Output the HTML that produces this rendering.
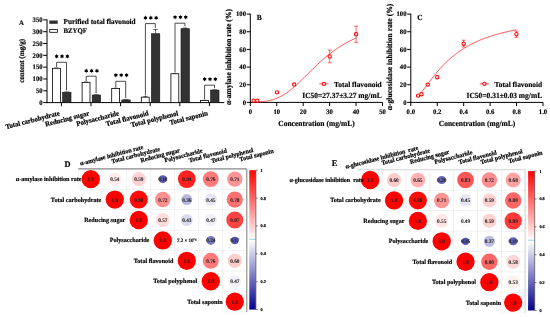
<!DOCTYPE html>
<html><head><meta charset="utf-8"><style>
html,body{margin:0;padding:0;background:#fff;}
svg{display:block;will-change:transform;}
text{transform-box:fill-box;transform-origin:50% 80%;transform:scaleY(1.03);white-space:pre;text-rendering:geometricPrecision;stroke:#000;stroke-width:0.16px;}
.r text{stroke-width:0.2px;}
</style></head><body>
<svg width="550" height="317" viewBox="0 0 550 317" font-family="Liberation Serif, serif">
<rect width="550" height="317" fill="#fff"/>
<g stroke="#000" stroke-width="1" fill="none">
<line x1="47.0" y1="19.4" x2="47.0" y2="103.1"/>
<line x1="46.5" y1="102.6" x2="224.3" y2="102.6"/>
<line x1="43.2" y1="102.60" x2="47.0" y2="102.60"/>
<line x1="43.2" y1="90.79" x2="47.0" y2="90.79"/>
<line x1="43.2" y1="78.97" x2="47.0" y2="78.97"/>
<line x1="43.2" y1="67.16" x2="47.0" y2="67.16"/>
<line x1="43.2" y1="55.34" x2="47.0" y2="55.34"/>
<line x1="43.2" y1="43.53" x2="47.0" y2="43.53"/>
<line x1="43.2" y1="31.71" x2="47.0" y2="31.71"/>
<line x1="43.2" y1="19.90" x2="47.0" y2="19.90"/>
<line x1="61.40" y1="102.6" x2="61.40" y2="106.19999999999999"/>
<line x1="91.00" y1="102.6" x2="91.00" y2="106.19999999999999"/>
<line x1="120.60" y1="102.6" x2="120.60" y2="106.19999999999999"/>
<line x1="150.20" y1="102.6" x2="150.20" y2="106.19999999999999"/>
<line x1="179.80" y1="102.6" x2="179.80" y2="106.19999999999999"/>
<line x1="209.40" y1="102.6" x2="209.40" y2="106.19999999999999"/>
</g>
<g font-family="Liberation Serif, serif" font-weight="bold">
<text x="42.60" y="104.90" font-size="6.7" text-anchor="end" fill="#000" >0</text>
<text x="42.60" y="93.09" font-size="6.7" text-anchor="end" fill="#000" >50</text>
<text x="42.60" y="81.27" font-size="6.7" text-anchor="end" fill="#000" >100</text>
<text x="42.60" y="69.46" font-size="6.7" text-anchor="end" fill="#000" >150</text>
<text x="42.60" y="57.64" font-size="6.7" text-anchor="end" fill="#000" >200</text>
<text x="42.60" y="45.83" font-size="6.7" text-anchor="end" fill="#000" >250</text>
<text x="42.60" y="34.01" font-size="6.7" text-anchor="end" fill="#000" >300</text>
<text x="42.60" y="22.20" font-size="6.7" text-anchor="end" fill="#000" >350</text>
</g>
<g>
<line x1="56.45" y1="68.34" x2="56.45" y2="67.98" stroke="#000" stroke-width="0.6"/>
<line x1="54.45" y1="67.98" x2="58.45" y2="67.98" stroke="#000" stroke-width="0.6"/>
<line x1="66.70" y1="92.20" x2="66.70" y2="91.97" stroke="#000" stroke-width="0.6"/>
<line x1="64.40" y1="91.97" x2="69.00" y2="91.97" stroke="#000" stroke-width="0.6"/>
<rect x="52.50" y="68.34" width="7.90" height="34.26" fill="#fff" stroke="#000" stroke-width="0.8"/>
<rect x="62.60" y="92.20" width="8.40" height="10.40" fill="#333" stroke="#111" stroke-width="0.6"/>
<line x1="86.05" y1="82.37" x2="86.05" y2="82.02" stroke="#000" stroke-width="0.6"/>
<line x1="84.05" y1="82.02" x2="88.05" y2="82.02" stroke="#000" stroke-width="0.6"/>
<line x1="96.30" y1="95.04" x2="96.30" y2="94.80" stroke="#000" stroke-width="0.6"/>
<line x1="94.00" y1="94.80" x2="98.60" y2="94.80" stroke="#000" stroke-width="0.6"/>
<rect x="82.10" y="82.37" width="7.90" height="20.23" fill="#fff" stroke="#000" stroke-width="0.8"/>
<rect x="92.20" y="95.04" width="8.40" height="7.56" fill="#333" stroke="#111" stroke-width="0.6"/>
<line x1="115.65" y1="88.42" x2="115.65" y2="88.07" stroke="#000" stroke-width="0.6"/>
<line x1="113.65" y1="88.07" x2="117.65" y2="88.07" stroke="#000" stroke-width="0.6"/>
<line x1="125.90" y1="99.91" x2="125.90" y2="99.72" stroke="#000" stroke-width="0.6"/>
<line x1="123.60" y1="99.72" x2="128.20" y2="99.72" stroke="#000" stroke-width="0.6"/>
<rect x="111.70" y="88.42" width="7.90" height="14.18" fill="#fff" stroke="#000" stroke-width="0.8"/>
<rect x="121.80" y="99.91" width="8.40" height="2.69" fill="#333" stroke="#111" stroke-width="0.6"/>
<line x1="145.25" y1="97.17" x2="145.25" y2="96.57" stroke="#000" stroke-width="0.6"/>
<line x1="143.25" y1="96.57" x2="147.25" y2="96.57" stroke="#000" stroke-width="0.6"/>
<line x1="155.50" y1="33.72" x2="155.50" y2="29.47" stroke="#000" stroke-width="0.6"/>
<line x1="153.20" y1="29.47" x2="157.80" y2="29.47" stroke="#000" stroke-width="0.6"/>
<rect x="141.30" y="97.17" width="7.90" height="5.43" fill="#fff" stroke="#000" stroke-width="0.8"/>
<rect x="151.40" y="33.72" width="8.40" height="68.88" fill="#333" stroke="#111" stroke-width="0.6"/>
<line x1="174.85" y1="73.77" x2="174.85" y2="73.49" stroke="#000" stroke-width="0.6"/>
<line x1="172.85" y1="73.49" x2="176.85" y2="73.49" stroke="#000" stroke-width="0.6"/>
<line x1="185.10" y1="28.71" x2="185.10" y2="28.00" stroke="#000" stroke-width="0.6"/>
<line x1="182.80" y1="28.00" x2="187.40" y2="28.00" stroke="#000" stroke-width="0.6"/>
<rect x="170.90" y="73.77" width="7.90" height="28.83" fill="#fff" stroke="#000" stroke-width="0.8"/>
<rect x="181.00" y="28.71" width="8.40" height="73.89" fill="#333" stroke="#111" stroke-width="0.6"/>
<line x1="204.45" y1="100.47" x2="204.45" y2="100.28" stroke="#000" stroke-width="0.6"/>
<line x1="202.45" y1="100.28" x2="206.45" y2="100.28" stroke="#000" stroke-width="0.6"/>
<line x1="214.70" y1="90.08" x2="214.70" y2="89.84" stroke="#000" stroke-width="0.6"/>
<line x1="212.40" y1="89.84" x2="217.00" y2="89.84" stroke="#000" stroke-width="0.6"/>
<rect x="200.50" y="100.47" width="7.90" height="2.13" fill="#fff" stroke="#000" stroke-width="0.8"/>
<rect x="210.60" y="90.08" width="8.40" height="12.52" fill="#333" stroke="#111" stroke-width="0.6"/>
</g>
<g stroke="#111" stroke-width="0.75" fill="none">
<polyline points="56.60,66.98 56.60,62.3 66.50,62.3 66.50,90.37"/>
<polyline points="86.20,81.02 86.20,76.2 96.10,76.2 96.10,93.20"/>
<polyline points="115.80,87.07 115.80,81.3 125.70,81.3 125.70,98.12"/>
<polyline points="145.40,95.57 145.40,23.6 155.30,23.6 155.30,27.87"/>
<polyline points="175.00,72.49 175.00,23.2 184.90,23.2 184.90,26.40"/>
<polyline points="204.60,99.28 204.60,85.2 214.50,85.2 214.50,88.24"/>
</g>
<g font-family="Liberation Serif, serif" font-weight="bold">
<polygon points="56.65,54.10 56.00,55.17 54.74,55.20 55.35,56.30 54.74,57.40 56.00,57.43 56.65,58.50 57.30,57.43 58.56,57.40 57.95,56.30 58.56,55.20 57.30,55.17" fill="#000" stroke="none"/>
<polygon points="62.00,54.10 61.35,55.17 60.09,55.20 60.70,56.30 60.09,57.40 61.35,57.43 62.00,58.50 62.65,57.43 63.91,57.40 63.30,56.30 63.91,55.20 62.65,55.17" fill="#000" stroke="none"/>
<polygon points="67.35,54.10 66.70,55.17 65.44,55.20 66.05,56.30 65.44,57.40 66.70,57.43 67.35,58.50 68.00,57.43 69.26,57.40 68.65,56.30 69.26,55.20 68.00,55.17" fill="#000" stroke="none"/>
<polygon points="86.25,68.60 85.60,69.67 84.34,69.70 84.95,70.80 84.34,71.90 85.60,71.93 86.25,73.00 86.90,71.93 88.16,71.90 87.55,70.80 88.16,69.70 86.90,69.67" fill="#000" stroke="none"/>
<polygon points="91.60,68.60 90.95,69.67 89.69,69.70 90.30,70.80 89.69,71.90 90.95,71.93 91.60,73.00 92.25,71.93 93.51,71.90 92.90,70.80 93.51,69.70 92.25,69.67" fill="#000" stroke="none"/>
<polygon points="96.95,68.60 96.30,69.67 95.04,69.70 95.65,70.80 95.04,71.90 96.30,71.93 96.95,73.00 97.60,71.93 98.86,71.90 98.25,70.80 98.86,69.70 97.60,69.67" fill="#000" stroke="none"/>
<polygon points="115.85,73.00 115.20,74.07 113.94,74.10 114.55,75.20 113.94,76.30 115.20,76.33 115.85,77.40 116.50,76.33 117.76,76.30 117.15,75.20 117.76,74.10 116.50,74.07" fill="#000" stroke="none"/>
<polygon points="121.20,73.00 120.55,74.07 119.29,74.10 119.90,75.20 119.29,76.30 120.55,76.33 121.20,77.40 121.85,76.33 123.11,76.30 122.50,75.20 123.11,74.10 121.85,74.07" fill="#000" stroke="none"/>
<polygon points="126.55,73.00 125.90,74.07 124.64,74.10 125.25,75.20 124.64,76.30 125.90,76.33 126.55,77.40 127.20,76.33 128.46,76.30 127.85,75.20 128.46,74.10 127.20,74.07" fill="#000" stroke="none"/>
<polygon points="145.45,15.60 144.80,16.67 143.54,16.70 144.15,17.80 143.54,18.90 144.80,18.93 145.45,20.00 146.10,18.93 147.36,18.90 146.75,17.80 147.36,16.70 146.10,16.67" fill="#000" stroke="none"/>
<polygon points="150.80,15.60 150.15,16.67 148.89,16.70 149.50,17.80 148.89,18.90 150.15,18.93 150.80,20.00 151.45,18.93 152.71,18.90 152.10,17.80 152.71,16.70 151.45,16.67" fill="#000" stroke="none"/>
<polygon points="156.15,15.60 155.50,16.67 154.24,16.70 154.85,17.80 154.24,18.90 155.50,18.93 156.15,20.00 156.80,18.93 158.06,18.90 157.45,17.80 158.06,16.70 156.80,16.67" fill="#000" stroke="none"/>
<polygon points="175.05,15.00 174.40,16.07 173.14,16.10 173.75,17.20 173.14,18.30 174.40,18.33 175.05,19.40 175.70,18.33 176.96,18.30 176.35,17.20 176.96,16.10 175.70,16.07" fill="#000" stroke="none"/>
<polygon points="180.40,15.00 179.75,16.07 178.49,16.10 179.10,17.20 178.49,18.30 179.75,18.33 180.40,19.40 181.05,18.33 182.31,18.30 181.70,17.20 182.31,16.10 181.05,16.07" fill="#000" stroke="none"/>
<polygon points="185.75,15.00 185.10,16.07 183.84,16.10 184.45,17.20 183.84,18.30 185.10,18.33 185.75,19.40 186.40,18.33 187.66,18.30 187.05,17.20 187.66,16.10 186.40,16.07" fill="#000" stroke="none"/>
<polygon points="204.65,77.00 204.00,78.07 202.74,78.10 203.35,79.20 202.74,80.30 204.00,80.33 204.65,81.40 205.30,80.33 206.56,80.30 205.95,79.20 206.56,78.10 205.30,78.07" fill="#000" stroke="none"/>
<polygon points="210.00,77.00 209.35,78.07 208.09,78.10 208.70,79.20 208.09,80.30 209.35,80.33 210.00,81.40 210.65,80.33 211.91,80.30 211.30,79.20 211.91,78.10 210.65,78.07" fill="#000" stroke="none"/>
<polygon points="215.35,77.00 214.70,78.07 213.44,78.10 214.05,79.20 213.44,80.30 214.70,80.33 215.35,81.40 216.00,80.33 217.26,80.30 216.65,79.20 217.26,78.10 216.00,78.07" fill="#000" stroke="none"/>
</g>
<rect x="49.3" y="20.5" width="8.4" height="3.3" fill="#2e2e2e"/>
<rect x="49.7" y="29.6" width="7.8" height="2.7" fill="#fff" stroke="#000" stroke-width="0.8"/>
<g font-family="Liberation Serif, serif" font-weight="bold">
<text x="63.5" y="24.3" font-size="7.25">Purified total flavonoid</text>
<text x="63.5" y="33.5" font-size="6.8">BZYQF</text>
<text x="21.5" y="24.9" font-size="6.8" text-anchor="middle">A</text>
<g class="r" transform="translate(24.2 60.9) rotate(-90)"><text x="0" y="0" font-size="7.1" text-anchor="middle">content (mg/g)</text></g>
<g class="r" transform="rotate(-14.5 60.20 115.20)"><text x="60.20" y="115.20" font-size="6.8" text-anchor="end">Total carbohydrate</text></g>
<g class="r" transform="rotate(-14.5 89.80 115.20)"><text x="89.80" y="115.20" font-size="6.8" text-anchor="end">Reducing sugar</text></g>
<g class="r" transform="rotate(-14.5 119.40 115.20)"><text x="119.40" y="115.20" font-size="6.8" text-anchor="end">Polysaccharide</text></g>
<g class="r" transform="rotate(-14.5 149.00 115.20)"><text x="149.00" y="115.20" font-size="6.8" text-anchor="end">Total flavonoid</text></g>
<g class="r" transform="rotate(-14.5 178.60 115.20)"><text x="178.60" y="115.20" font-size="6.8" text-anchor="end">Total polyphenol</text></g>
<g class="r" transform="rotate(-14.5 208.20 115.20)"><text x="208.20" y="115.20" font-size="6.8" text-anchor="end">Total saponin</text></g>
</g>
<g stroke="#000" stroke-width="1" fill="none">
<line x1="250.3" y1="13.6" x2="250.3" y2="102.9"/>
<line x1="249.8" y1="102.4" x2="382.5" y2="102.4"/>
<line x1="246.70000000000002" y1="102.40" x2="250.3" y2="102.40"/>
<line x1="246.70000000000002" y1="84.74" x2="250.3" y2="84.74"/>
<line x1="246.70000000000002" y1="67.08" x2="250.3" y2="67.08"/>
<line x1="246.70000000000002" y1="49.42" x2="250.3" y2="49.42"/>
<line x1="246.70000000000002" y1="31.76" x2="250.3" y2="31.76"/>
<line x1="246.70000000000002" y1="14.10" x2="250.3" y2="14.10"/>
<line x1="250.30" y1="102.4" x2="250.30" y2="106.0"/>
<line x1="276.74" y1="102.4" x2="276.74" y2="106.0"/>
<line x1="303.18" y1="102.4" x2="303.18" y2="106.0"/>
<line x1="329.62" y1="102.4" x2="329.62" y2="106.0"/>
<line x1="356.06" y1="102.4" x2="356.06" y2="106.0"/>
<line x1="382.50" y1="102.4" x2="382.50" y2="106.0"/>
</g>
<g font-family="Liberation Serif, serif" font-weight="bold">
<text x="246.00" y="104.70" font-size="6.7" text-anchor="end" fill="#000" >0</text>
<text x="246.00" y="87.04" font-size="6.7" text-anchor="end" fill="#000" >20</text>
<text x="246.00" y="69.38" font-size="6.7" text-anchor="end" fill="#000" >40</text>
<text x="246.00" y="51.72" font-size="6.7" text-anchor="end" fill="#000" >60</text>
<text x="246.00" y="34.06" font-size="6.7" text-anchor="end" fill="#000" >80</text>
<text x="246.00" y="16.40" font-size="6.7" text-anchor="end" fill="#000" >100</text>
<text x="250.30" y="114.30" font-size="6.7" text-anchor="middle" fill="#000" >0</text>
<text x="276.74" y="114.30" font-size="6.7" text-anchor="middle" fill="#000" >10</text>
<text x="303.18" y="114.30" font-size="6.7" text-anchor="middle" fill="#000" >20</text>
<text x="329.62" y="114.30" font-size="6.7" text-anchor="middle" fill="#000" >30</text>
<text x="356.06" y="114.30" font-size="6.7" text-anchor="middle" fill="#000" >40</text>
<text x="382.50" y="114.30" font-size="6.7" text-anchor="middle" fill="#000" >50</text>
<text x="316.50" y="125.6" font-size="7.5" text-anchor="middle">Concentration (mg/mL)</text>
<g class="r" transform="translate(231.10 57) rotate(-90)"><text x="0" y="0" font-size="7.6" text-anchor="middle">α-amylase inhibition rate (%)</text></g>
<text x="256.80" y="20.4" font-size="7.5">B</text>
<text x="381.70" y="86.7" font-size="7.4" text-anchor="end">Total flavonoid</text>
<text x="381.70" y="98.4" font-size="7.5" text-anchor="end">IC50=27.37±3.27 mg/mL</text>
</g>
<path d="M259.30,101.82 L260.92,101.72 L262.53,101.60 L264.15,101.43 L265.76,101.22 L267.38,100.96 L268.99,100.64 L270.61,100.27 L272.23,99.83 L273.84,99.33 L275.46,98.76 L277.07,98.11 L278.69,97.40 L280.30,96.61 L281.92,95.74 L283.53,94.80 L285.15,93.79 L286.76,92.71 L288.38,91.55 L289.99,90.34 L291.61,89.06 L293.22,87.72 L294.84,86.33 L296.45,84.89 L298.07,83.41 L299.69,81.90 L301.30,80.36 L302.92,78.79 L304.53,77.20 L306.15,75.61 L307.76,74.00 L309.38,72.40 L310.99,70.80 L312.61,69.21 L314.22,67.64 L315.84,66.08 L317.45,64.54 L319.07,63.03 L320.68,61.55 L322.30,60.10 L323.91,58.68 L325.53,57.29 L327.14,55.94 L328.76,54.63 L330.38,53.35 L331.99,52.11 L333.61,50.91 L335.22,49.75 L336.84,48.63 L338.45,47.55 L340.07,46.50 L341.68,45.49 L343.30,44.52 L344.91,43.58 L346.53,42.68 L348.14,41.81 L349.76,40.98 L351.37,40.18 L352.99,39.40 L354.60,38.66 L356.22,37.95" fill="none" stroke="#ff3a3a" stroke-width="0.85"/>
<g stroke="#ff0000" fill="none" stroke-width="1.05">
<line x1="329.70" y1="50.00" x2="329.70" y2="62.80" stroke-width="0.6"/>
<line x1="327.75" y1="50.00" x2="331.65" y2="50.00" stroke-width="0.6"/>
<line x1="327.75" y1="62.80" x2="331.65" y2="62.80" stroke-width="0.6"/>
<line x1="356.10" y1="26.20" x2="356.10" y2="42.40" stroke-width="0.6"/>
<line x1="354.15" y1="26.20" x2="358.05" y2="26.20" stroke-width="0.6"/>
<line x1="354.15" y1="42.40" x2="358.05" y2="42.40" stroke-width="0.6"/>
<circle cx="253.60" cy="100.70" r="1.65" fill="#fff"/>
<circle cx="257.30" cy="100.70" r="1.65" fill="#fff"/>
<circle cx="277.00" cy="92.30" r="1.65" fill="#fff"/>
<circle cx="294.20" cy="84.50" r="1.65" fill="#fff"/>
<circle cx="329.70" cy="56.40" r="1.65" fill="#fff"/>
<circle cx="356.10" cy="34.30" r="1.65" fill="#fff"/>
<line x1="319.30" y1="83.8" x2="328.50" y2="83.8" stroke-width="0.7"/>
<circle cx="323.90" cy="83.8" r="1.65" fill="#fff"/>
</g>
<g stroke="#000" stroke-width="1" fill="none">
<line x1="410.8" y1="13.6" x2="410.8" y2="102.9"/>
<line x1="410.3" y1="102.4" x2="543.0" y2="102.4"/>
<line x1="407.2" y1="102.40" x2="410.8" y2="102.40"/>
<line x1="407.2" y1="84.74" x2="410.8" y2="84.74"/>
<line x1="407.2" y1="67.08" x2="410.8" y2="67.08"/>
<line x1="407.2" y1="49.42" x2="410.8" y2="49.42"/>
<line x1="407.2" y1="31.76" x2="410.8" y2="31.76"/>
<line x1="407.2" y1="14.10" x2="410.8" y2="14.10"/>
<line x1="410.80" y1="102.4" x2="410.80" y2="106.0"/>
<line x1="437.24" y1="102.4" x2="437.24" y2="106.0"/>
<line x1="463.68" y1="102.4" x2="463.68" y2="106.0"/>
<line x1="490.12" y1="102.4" x2="490.12" y2="106.0"/>
<line x1="516.56" y1="102.4" x2="516.56" y2="106.0"/>
<line x1="543.00" y1="102.4" x2="543.00" y2="106.0"/>
</g>
<g font-family="Liberation Serif, serif" font-weight="bold">
<text x="406.50" y="104.70" font-size="6.7" text-anchor="end" fill="#000" >0</text>
<text x="406.50" y="87.04" font-size="6.7" text-anchor="end" fill="#000" >20</text>
<text x="406.50" y="69.38" font-size="6.7" text-anchor="end" fill="#000" >40</text>
<text x="406.50" y="51.72" font-size="6.7" text-anchor="end" fill="#000" >60</text>
<text x="406.50" y="34.06" font-size="6.7" text-anchor="end" fill="#000" >80</text>
<text x="406.50" y="16.40" font-size="6.7" text-anchor="end" fill="#000" >100</text>
<text x="410.80" y="114.30" font-size="6.7" text-anchor="middle" fill="#000" >0.0</text>
<text x="437.24" y="114.30" font-size="6.7" text-anchor="middle" fill="#000" >0.2</text>
<text x="463.68" y="114.30" font-size="6.7" text-anchor="middle" fill="#000" >0.4</text>
<text x="490.12" y="114.30" font-size="6.7" text-anchor="middle" fill="#000" >0.6</text>
<text x="516.56" y="114.30" font-size="6.7" text-anchor="middle" fill="#000" >0.8</text>
<text x="543.00" y="114.30" font-size="6.7" text-anchor="middle" fill="#000" >1.0</text>
<text x="477.00" y="125.6" font-size="7.5" text-anchor="middle">Concentration (mg/mL)</text>
<g class="r" transform="translate(391.60 57) rotate(-90)"><text x="0" y="0" font-size="7.6" text-anchor="middle">α-glucosidase inhibition rate (%)</text></g>
<text x="417.30" y="20.4" font-size="7.5">C</text>
<text x="542.20" y="86.7" font-size="7.4" text-anchor="end">Total flavonoid</text>
<text x="542.20" y="98.4" font-size="7.5" text-anchor="end">IC50=0.31±0.03 mg/mL</text>
</g>
<path d="M417.13,97.25 L418.78,95.43 L420.43,93.47 L422.08,91.40 L423.73,89.27 L425.39,87.09 L427.04,84.90 L428.69,82.72 L430.34,80.55 L431.99,78.42 L433.65,76.32 L435.30,74.28 L436.95,72.29 L438.60,70.37 L440.25,68.50 L441.90,66.70 L443.56,64.96 L445.21,63.28 L446.86,61.67 L448.51,60.12 L450.16,58.64 L451.82,57.21 L453.47,55.84 L455.12,54.53 L456.77,53.27 L458.42,52.06 L460.08,50.90 L461.73,49.79 L463.38,48.73 L465.03,47.71 L466.68,46.73 L468.34,45.79 L469.99,44.89 L471.64,44.02 L473.29,43.19 L474.94,42.40 L476.59,41.63 L478.25,40.90 L479.90,40.19 L481.55,39.51 L483.20,38.86 L484.85,38.23 L486.51,37.63 L488.16,37.05 L489.81,36.49 L491.46,35.95 L493.11,35.43 L494.77,34.92 L496.42,34.44 L498.07,33.97 L499.72,33.52 L501.37,33.09 L503.02,32.67 L504.68,32.26 L506.33,31.87 L507.98,31.49 L509.63,31.12 L511.28,30.77 L512.94,30.43 L514.59,30.09 L516.24,29.77" fill="none" stroke="#ff3a3a" stroke-width="0.85"/>
<g stroke="#ff0000" fill="none" stroke-width="1.05">
<line x1="463.70" y1="40.20" x2="463.70" y2="47.10" stroke-width="0.6"/>
<line x1="461.75" y1="40.20" x2="465.65" y2="40.20" stroke-width="0.6"/>
<line x1="461.75" y1="47.10" x2="465.65" y2="47.10" stroke-width="0.6"/>
<line x1="516.40" y1="31.10" x2="516.40" y2="37.40" stroke-width="0.6"/>
<line x1="514.45" y1="31.10" x2="518.35" y2="31.10" stroke-width="0.6"/>
<line x1="514.45" y1="37.40" x2="518.35" y2="37.40" stroke-width="0.6"/>
<circle cx="418.10" cy="95.60" r="1.65" fill="#fff"/>
<circle cx="421.40" cy="94.20" r="1.65" fill="#fff"/>
<circle cx="427.80" cy="84.60" r="1.65" fill="#fff"/>
<circle cx="437.20" cy="77.20" r="1.65" fill="#fff"/>
<circle cx="463.70" cy="43.70" r="1.65" fill="#fff"/>
<circle cx="516.40" cy="34.10" r="1.65" fill="#fff"/>
<line x1="479.80" y1="83.8" x2="489.00" y2="83.8" stroke-width="0.7"/>
<circle cx="484.40" cy="83.8" r="1.65" fill="#fff"/>
</g>
<g stroke="#f0f0f0" stroke-width="0.6">
<rect x="78.80" y="168.90" width="24.00" height="20.43" fill="none"/>
<rect x="102.80" y="168.90" width="24.00" height="20.43" fill="none"/>
<rect x="126.80" y="168.90" width="24.00" height="20.43" fill="none"/>
<rect x="150.80" y="168.90" width="24.00" height="20.43" fill="none"/>
<rect x="174.80" y="168.90" width="24.00" height="20.43" fill="none"/>
<rect x="198.80" y="168.90" width="24.00" height="20.43" fill="none"/>
<rect x="222.80" y="168.90" width="24.00" height="20.43" fill="none"/>
<rect x="102.80" y="189.33" width="24.00" height="20.43" fill="none"/>
<rect x="126.80" y="189.33" width="24.00" height="20.43" fill="none"/>
<rect x="150.80" y="189.33" width="24.00" height="20.43" fill="none"/>
<rect x="174.80" y="189.33" width="24.00" height="20.43" fill="none"/>
<rect x="198.80" y="189.33" width="24.00" height="20.43" fill="none"/>
<rect x="222.80" y="189.33" width="24.00" height="20.43" fill="none"/>
<rect x="126.80" y="209.76" width="24.00" height="20.43" fill="none"/>
<rect x="150.80" y="209.76" width="24.00" height="20.43" fill="none"/>
<rect x="174.80" y="209.76" width="24.00" height="20.43" fill="none"/>
<rect x="198.80" y="209.76" width="24.00" height="20.43" fill="none"/>
<rect x="222.80" y="209.76" width="24.00" height="20.43" fill="none"/>
<rect x="150.80" y="230.19" width="24.00" height="20.43" fill="none"/>
<rect x="174.80" y="230.19" width="24.00" height="20.43" fill="none"/>
<rect x="198.80" y="230.19" width="24.00" height="20.43" fill="none"/>
<rect x="222.80" y="230.19" width="24.00" height="20.43" fill="none"/>
<rect x="174.80" y="250.62" width="24.00" height="20.43" fill="none"/>
<rect x="198.80" y="250.62" width="24.00" height="20.43" fill="none"/>
<rect x="222.80" y="250.62" width="24.00" height="20.43" fill="none"/>
<rect x="198.80" y="271.05" width="24.00" height="20.43" fill="none"/>
<rect x="222.80" y="271.05" width="24.00" height="20.43" fill="none"/>
<rect x="222.80" y="291.48" width="24.00" height="20.43" fill="none"/>
</g>
<line x1="78.20" y1="168.90" x2="246.80" y2="168.90" stroke="#8a8a8a" stroke-width="1.1"/>
<line x1="246.80" y1="168.90" x2="246.80" y2="311.91" stroke="#8a8a8a" stroke-width="1.1"/>
<circle cx="90.80" cy="179.12" r="9.15" fill="rgb(255,0,0)"/>
<text x="90.80" y="181.12" font-size="5.3" text-anchor="middle" font-family="Liberation Serif, serif" font-weight="bold" fill="#2a2a2a" style="stroke-width:0.06px">1.0</text>
<circle cx="114.80" cy="179.12" r="6.72" fill="rgb(255,235,235)"/>
<text x="114.80" y="181.12" font-size="5.3" text-anchor="middle" font-family="Liberation Serif, serif" font-weight="bold" fill="#2a2a2a" style="stroke-width:0.06px">0.54</text>
<circle cx="138.80" cy="179.12" r="7.03" fill="rgb(255,209,209)"/>
<text x="138.80" y="181.12" font-size="5.3" text-anchor="middle" font-family="Liberation Serif, serif" font-weight="bold" fill="#2a2a2a" style="stroke-width:0.06px">0.59</text>
<circle cx="162.80" cy="179.12" r="3.88" fill="rgb(92,92,181)"/>
<text x="162.80" y="181.12" font-size="5.3" text-anchor="middle" font-family="Liberation Serif, serif" font-weight="bold" fill="#2a2a2a" style="stroke-width:0.06px">0.18</text>
<circle cx="186.80" cy="179.12" r="8.87" fill="rgb(255,31,31)"/>
<text x="186.80" y="181.12" font-size="5.3" text-anchor="middle" font-family="Liberation Serif, serif" font-weight="bold" fill="#2a2a2a" style="stroke-width:0.06px">0.94</text>
<circle cx="210.80" cy="179.12" r="7.98" fill="rgb(255,122,122)"/>
<text x="210.80" y="181.12" font-size="5.3" text-anchor="middle" font-family="Liberation Serif, serif" font-weight="bold" fill="#2a2a2a" style="stroke-width:0.06px">0.76</text>
<circle cx="234.80" cy="179.12" r="7.71" fill="rgb(255,148,148)"/>
<text x="234.80" y="181.12" font-size="5.3" text-anchor="middle" font-family="Liberation Serif, serif" font-weight="bold" fill="#2a2a2a" style="stroke-width:0.06px">0.71</text>
<circle cx="114.80" cy="199.55" r="9.15" fill="rgb(255,0,0)"/>
<text x="114.80" y="201.55" font-size="5.3" text-anchor="middle" font-family="Liberation Serif, serif" font-weight="bold" fill="#2a2a2a" style="stroke-width:0.06px">1.0</text>
<circle cx="138.80" cy="199.55" r="9.06" fill="rgb(255,10,10)"/>
<text x="138.80" y="201.55" font-size="5.3" text-anchor="middle" font-family="Liberation Serif, serif" font-weight="bold" fill="#2a2a2a" style="stroke-width:0.06px">0.98</text>
<circle cx="162.80" cy="199.55" r="7.76" fill="rgb(255,143,143)"/>
<text x="162.80" y="201.55" font-size="5.3" text-anchor="middle" font-family="Liberation Serif, serif" font-weight="bold" fill="#2a2a2a" style="stroke-width:0.06px">0.72</text>
<circle cx="186.80" cy="199.55" r="5.49" fill="rgb(184,184,223)"/>
<text x="186.80" y="201.55" font-size="5.3" text-anchor="middle" font-family="Liberation Serif, serif" font-weight="bold" fill="#2a2a2a" style="stroke-width:0.06px">0.36</text>
<circle cx="210.80" cy="199.55" r="6.14" fill="rgb(230,230,243)"/>
<text x="210.80" y="201.55" font-size="5.3" text-anchor="middle" font-family="Liberation Serif, serif" font-weight="bold" fill="#2a2a2a" style="stroke-width:0.06px">0.45</text>
<circle cx="234.80" cy="199.55" r="8.08" fill="rgb(255,112,112)"/>
<text x="234.80" y="201.55" font-size="5.3" text-anchor="middle" font-family="Liberation Serif, serif" font-weight="bold" fill="#2a2a2a" style="stroke-width:0.06px">0.78</text>
<circle cx="138.80" cy="219.98" r="9.15" fill="rgb(255,0,0)"/>
<text x="138.80" y="221.98" font-size="5.3" text-anchor="middle" font-family="Liberation Serif, serif" font-weight="bold" fill="#2a2a2a" style="stroke-width:0.06px">1.0</text>
<circle cx="162.80" cy="219.98" r="6.91" fill="rgb(255,219,219)"/>
<text x="162.80" y="221.98" font-size="5.3" text-anchor="middle" font-family="Liberation Serif, serif" font-weight="bold" fill="#2a2a2a" style="stroke-width:0.06px">0.57</text>
<circle cx="186.80" cy="219.98" r="6.00" fill="rgb(219,219,239)"/>
<text x="186.80" y="221.98" font-size="5.3" text-anchor="middle" font-family="Liberation Serif, serif" font-weight="bold" fill="#2a2a2a" style="stroke-width:0.06px">0.43</text>
<circle cx="210.80" cy="219.98" r="6.27" fill="rgb(240,240,248)"/>
<text x="210.80" y="221.98" font-size="5.3" text-anchor="middle" font-family="Liberation Serif, serif" font-weight="bold" fill="#2a2a2a" style="stroke-width:0.06px">0.47</text>
<circle cx="234.80" cy="219.98" r="8.53" fill="rgb(255,66,66)"/>
<text x="234.80" y="221.98" font-size="5.3" text-anchor="middle" font-family="Liberation Serif, serif" font-weight="bold" fill="#2a2a2a" style="stroke-width:0.06px">0.87</text>
<circle cx="162.80" cy="240.41" r="9.15" fill="rgb(255,0,0)"/>
<text x="162.80" y="242.41" font-size="5.3" text-anchor="middle" font-family="Liberation Serif, serif" font-weight="bold" fill="#2a2a2a" style="stroke-width:0.06px">1.0</text>
<text x="186.80" y="242.00" font-size="4.9" text-anchor="middle" font-family="Liberation Serif, serif" font-weight="bold" fill="#222">7.2 × 10⁻⁴</text>
<circle cx="210.80" cy="240.41" r="4.48" fill="rgb(122,122,195)"/>
<text x="210.80" y="242.41" font-size="5.3" text-anchor="middle" font-family="Liberation Serif, serif" font-weight="bold" fill="#2a2a2a" style="stroke-width:0.06px">0.24</text>
<circle cx="234.80" cy="240.41" r="3.77" fill="rgb(87,87,178)"/>
<text x="234.80" y="242.41" font-size="5.3" text-anchor="middle" font-family="Liberation Serif, serif" font-weight="bold" fill="#2a2a2a" style="stroke-width:0.06px">0.17</text>
<circle cx="186.80" cy="260.84" r="9.15" fill="rgb(255,0,0)"/>
<text x="186.80" y="262.84" font-size="5.3" text-anchor="middle" font-family="Liberation Serif, serif" font-weight="bold" fill="#2a2a2a" style="stroke-width:0.06px">1.0</text>
<circle cx="210.80" cy="260.84" r="7.98" fill="rgb(255,122,122)"/>
<text x="210.80" y="262.84" font-size="5.3" text-anchor="middle" font-family="Liberation Serif, serif" font-weight="bold" fill="#2a2a2a" style="stroke-width:0.06px">0.76</text>
<circle cx="234.80" cy="260.84" r="7.09" fill="rgb(255,204,204)"/>
<text x="234.80" y="262.84" font-size="5.3" text-anchor="middle" font-family="Liberation Serif, serif" font-weight="bold" fill="#2a2a2a" style="stroke-width:0.06px">0.60</text>
<circle cx="210.80" cy="281.26" r="9.15" fill="rgb(255,0,0)"/>
<text x="210.80" y="283.26" font-size="5.3" text-anchor="middle" font-family="Liberation Serif, serif" font-weight="bold" fill="#2a2a2a" style="stroke-width:0.06px">1.0</text>
<circle cx="234.80" cy="281.26" r="6.27" fill="rgb(240,240,248)"/>
<text x="234.80" y="283.26" font-size="5.3" text-anchor="middle" font-family="Liberation Serif, serif" font-weight="bold" fill="#2a2a2a" style="stroke-width:0.06px">0.47</text>
<circle cx="234.80" cy="301.69" r="9.15" fill="rgb(255,0,0)"/>
<text x="234.80" y="303.69" font-size="5.3" text-anchor="middle" font-family="Liberation Serif, serif" font-weight="bold" fill="#2a2a2a" style="stroke-width:0.06px">1.0</text>
<g font-family="Liberation Serif, serif" font-weight="bold">
<text x="81.60" y="181.17" font-size="6.15" text-anchor="end">α-amylase inhibition rate</text>
<text x="101.30" y="201.60" font-size="6.15" text-anchor="end">Total carbohydrate</text>
<text x="125.30" y="222.03" font-size="6.15" text-anchor="end">Reducing sugar</text>
<text x="149.30" y="242.46" font-size="6.15" text-anchor="end">Polysaccharide</text>
<text x="173.30" y="262.89" font-size="6.15" text-anchor="end">Total flavonoid</text>
<text x="197.30" y="283.31" font-size="6.15" text-anchor="end">Total polyphenol</text>
<text x="222.60" y="303.75" font-size="6.15" text-anchor="end">Total saponin</text>
<g class="r" transform="rotate(-14.8 80.50 165.60)"><text x="80.50" y="165.60" font-size="6.08">α-amylase inhibition rate</text></g>
<g class="r" transform="rotate(-14.8 112.00 163.50)"><text x="112.00" y="163.50" font-size="6.08">Total carbohydrate</text></g>
<g class="r" transform="rotate(-14.8 140.90 162.40)"><text x="140.90" y="162.40" font-size="6.08">Reducing sugar</text></g>
<g class="r" transform="rotate(-14.8 165.10 162.40)"><text x="165.10" y="162.40" font-size="6.08">Polysaccharide</text></g>
<g class="r" transform="rotate(-14.8 189.40 162.40)"><text x="189.40" y="162.40" font-size="6.08">Total flavonoid</text></g>
<g class="r" transform="rotate(-14.8 211.70 162.90)"><text x="211.70" y="162.90" font-size="6.08">Total polyphenol</text></g>
<g class="r" transform="rotate(-14.8 240.10 161.50)"><text x="240.10" y="161.50" font-size="6.08">Total saponin</text></g>
<text x="64.40" y="167.00" font-size="8.4">D</text>
</g>
<defs><linearGradient id="gD" x1="0" y1="0" x2="0" y2="1"><stop offset="0" stop-color="#ff0000"/><stop offset="0.5" stop-color="#ffffff"/><stop offset="1" stop-color="#00008b"/></linearGradient></defs>
<rect x="249.30" y="170.20" width="6.4" height="139.40" fill="url(#gD)"/>
<rect x="249.30" y="238.70" width="6.4" height="1.3" fill="#a8dcf0"/>
<line x1="255.90" y1="170.20" x2="255.90" y2="309.60" stroke="#000" stroke-width="0.5"/>
<line x1="255.90" y1="170.20" x2="257.70" y2="170.20" stroke="#000" stroke-width="0.5"/>
<text x="260.60" y="171.70" font-size="4.3" font-family="Liberation Serif, serif" font-weight="bold">1</text>
<line x1="255.90" y1="198.08" x2="257.70" y2="198.08" stroke="#000" stroke-width="0.5"/>
<text x="260.60" y="199.58" font-size="4.3" font-family="Liberation Serif, serif" font-weight="bold">0.8</text>
<line x1="255.90" y1="225.96" x2="257.70" y2="225.96" stroke="#000" stroke-width="0.5"/>
<text x="260.60" y="227.46" font-size="4.3" font-family="Liberation Serif, serif" font-weight="bold">0.6</text>
<line x1="255.90" y1="253.84" x2="257.70" y2="253.84" stroke="#000" stroke-width="0.5"/>
<text x="260.60" y="255.34" font-size="4.3" font-family="Liberation Serif, serif" font-weight="bold">0.4</text>
<line x1="255.90" y1="281.72" x2="257.70" y2="281.72" stroke="#000" stroke-width="0.5"/>
<text x="260.60" y="283.22" font-size="4.3" font-family="Liberation Serif, serif" font-weight="bold">0.2</text>
<line x1="255.90" y1="309.60" x2="257.70" y2="309.60" stroke="#000" stroke-width="0.5"/>
<text x="260.60" y="311.10" font-size="4.3" font-family="Liberation Serif, serif" font-weight="bold">0</text>
<g stroke="#f0f0f0" stroke-width="0.6">
<rect x="358.30" y="169.80" width="23.83" height="20.43" fill="none"/>
<rect x="382.13" y="169.80" width="23.83" height="20.43" fill="none"/>
<rect x="405.96" y="169.80" width="23.83" height="20.43" fill="none"/>
<rect x="429.79" y="169.80" width="23.83" height="20.43" fill="none"/>
<rect x="453.62" y="169.80" width="23.83" height="20.43" fill="none"/>
<rect x="477.45" y="169.80" width="23.83" height="20.43" fill="none"/>
<rect x="501.28" y="169.80" width="23.83" height="20.43" fill="none"/>
<rect x="382.13" y="190.23" width="23.83" height="20.43" fill="none"/>
<rect x="405.96" y="190.23" width="23.83" height="20.43" fill="none"/>
<rect x="429.79" y="190.23" width="23.83" height="20.43" fill="none"/>
<rect x="453.62" y="190.23" width="23.83" height="20.43" fill="none"/>
<rect x="477.45" y="190.23" width="23.83" height="20.43" fill="none"/>
<rect x="501.28" y="190.23" width="23.83" height="20.43" fill="none"/>
<rect x="405.96" y="210.66" width="23.83" height="20.43" fill="none"/>
<rect x="429.79" y="210.66" width="23.83" height="20.43" fill="none"/>
<rect x="453.62" y="210.66" width="23.83" height="20.43" fill="none"/>
<rect x="477.45" y="210.66" width="23.83" height="20.43" fill="none"/>
<rect x="501.28" y="210.66" width="23.83" height="20.43" fill="none"/>
<rect x="429.79" y="231.09" width="23.83" height="20.43" fill="none"/>
<rect x="453.62" y="231.09" width="23.83" height="20.43" fill="none"/>
<rect x="477.45" y="231.09" width="23.83" height="20.43" fill="none"/>
<rect x="501.28" y="231.09" width="23.83" height="20.43" fill="none"/>
<rect x="453.62" y="251.52" width="23.83" height="20.43" fill="none"/>
<rect x="477.45" y="251.52" width="23.83" height="20.43" fill="none"/>
<rect x="501.28" y="251.52" width="23.83" height="20.43" fill="none"/>
<rect x="477.45" y="271.95" width="23.83" height="20.43" fill="none"/>
<rect x="501.28" y="271.95" width="23.83" height="20.43" fill="none"/>
<rect x="501.28" y="292.38" width="23.83" height="20.43" fill="none"/>
</g>
<line x1="357.70" y1="169.80" x2="525.11" y2="169.80" stroke="#d6d6d6" stroke-width="1.1"/>
<line x1="525.11" y1="169.80" x2="525.11" y2="312.81" stroke="#d6d6d6" stroke-width="1.1"/>
<circle cx="370.22" cy="180.02" r="9.15" fill="rgb(255,0,0)"/>
<text x="370.22" y="182.02" font-size="5.3" text-anchor="middle" font-family="Liberation Serif, serif" font-weight="bold" fill="#2a2a2a" style="stroke-width:0.06px">1.0</text>
<circle cx="394.05" cy="180.02" r="7.09" fill="rgb(255,204,204)"/>
<text x="394.05" y="182.02" font-size="5.3" text-anchor="middle" font-family="Liberation Serif, serif" font-weight="bold" fill="#2a2a2a" style="stroke-width:0.06px">0.60</text>
<circle cx="417.88" cy="180.02" r="7.38" fill="rgb(255,178,178)"/>
<text x="417.88" y="182.02" font-size="5.3" text-anchor="middle" font-family="Liberation Serif, serif" font-weight="bold" fill="#2a2a2a" style="stroke-width:0.06px">0.65</text>
<circle cx="441.71" cy="180.02" r="4.09" fill="rgb(102,102,185)"/>
<text x="441.71" y="182.02" font-size="5.3" text-anchor="middle" font-family="Liberation Serif, serif" font-weight="bold" fill="#2a2a2a" style="stroke-width:0.06px">0.20</text>
<circle cx="465.53" cy="180.02" r="8.34" fill="rgb(255,87,87)"/>
<text x="465.53" y="182.02" font-size="5.3" text-anchor="middle" font-family="Liberation Serif, serif" font-weight="bold" fill="#2a2a2a" style="stroke-width:0.06px">0.83</text>
<circle cx="489.37" cy="180.02" r="7.76" fill="rgb(255,143,143)"/>
<text x="489.37" y="182.02" font-size="5.3" text-anchor="middle" font-family="Liberation Serif, serif" font-weight="bold" fill="#2a2a2a" style="stroke-width:0.06px">0.72</text>
<circle cx="513.19" cy="180.02" r="7.55" fill="rgb(255,163,163)"/>
<text x="513.19" y="182.02" font-size="5.3" text-anchor="middle" font-family="Liberation Serif, serif" font-weight="bold" fill="#2a2a2a" style="stroke-width:0.06px">0.68</text>
<circle cx="394.05" cy="200.45" r="9.15" fill="rgb(255,0,0)"/>
<text x="394.05" y="202.45" font-size="5.3" text-anchor="middle" font-family="Liberation Serif, serif" font-weight="bold" fill="#2a2a2a" style="stroke-width:0.06px">1.0</text>
<circle cx="417.88" cy="200.45" r="9.06" fill="rgb(255,10,10)"/>
<text x="417.88" y="202.45" font-size="5.3" text-anchor="middle" font-family="Liberation Serif, serif" font-weight="bold" fill="#2a2a2a" style="stroke-width:0.06px">0.98</text>
<circle cx="441.71" cy="200.45" r="7.71" fill="rgb(255,148,148)"/>
<text x="441.71" y="202.45" font-size="5.3" text-anchor="middle" font-family="Liberation Serif, serif" font-weight="bold" fill="#2a2a2a" style="stroke-width:0.06px">0.71</text>
<circle cx="465.53" cy="200.45" r="6.14" fill="rgb(230,230,243)"/>
<text x="465.53" y="202.45" font-size="5.3" text-anchor="middle" font-family="Liberation Serif, serif" font-weight="bold" fill="#2a2a2a" style="stroke-width:0.06px">0.45</text>
<circle cx="489.37" cy="200.45" r="7.03" fill="rgb(255,209,209)"/>
<text x="489.37" y="202.45" font-size="5.3" text-anchor="middle" font-family="Liberation Serif, serif" font-weight="bold" fill="#2a2a2a" style="stroke-width:0.06px">0.59</text>
<circle cx="513.19" cy="200.45" r="8.18" fill="rgb(255,102,102)"/>
<text x="513.19" y="202.45" font-size="5.3" text-anchor="middle" font-family="Liberation Serif, serif" font-weight="bold" fill="#2a2a2a" style="stroke-width:0.06px">0.80</text>
<circle cx="417.88" cy="220.88" r="9.15" fill="rgb(255,0,0)"/>
<text x="417.88" y="222.88" font-size="5.3" text-anchor="middle" font-family="Liberation Serif, serif" font-weight="bold" fill="#2a2a2a" style="stroke-width:0.06px">1.0</text>
<circle cx="441.71" cy="220.88" r="6.79" fill="rgb(255,229,229)"/>
<text x="441.71" y="222.88" font-size="5.3" text-anchor="middle" font-family="Liberation Serif, serif" font-weight="bold" fill="#2a2a2a" style="stroke-width:0.06px">0.55</text>
<circle cx="465.53" cy="220.88" r="6.41" fill="rgb(250,250,253)"/>
<text x="465.53" y="222.88" font-size="5.3" text-anchor="middle" font-family="Liberation Serif, serif" font-weight="bold" fill="#2a2a2a" style="stroke-width:0.06px">0.49</text>
<circle cx="489.37" cy="220.88" r="7.03" fill="rgb(255,209,209)"/>
<text x="489.37" y="222.88" font-size="5.3" text-anchor="middle" font-family="Liberation Serif, serif" font-weight="bold" fill="#2a2a2a" style="stroke-width:0.06px">0.59</text>
<circle cx="513.19" cy="220.88" r="8.63" fill="rgb(255,56,56)"/>
<text x="513.19" y="222.88" font-size="5.3" text-anchor="middle" font-family="Liberation Serif, serif" font-weight="bold" fill="#2a2a2a" style="stroke-width:0.06px">0.89</text>
<circle cx="441.71" cy="241.31" r="9.15" fill="rgb(255,0,0)"/>
<text x="441.71" y="243.31" font-size="5.3" text-anchor="middle" font-family="Liberation Serif, serif" font-weight="bold" fill="#2a2a2a" style="stroke-width:0.06px">1.0</text>
<circle cx="465.53" cy="241.31" r="3.66" fill="rgb(82,82,176)"/>
<text x="465.53" y="243.31" font-size="5.3" text-anchor="middle" font-family="Liberation Serif, serif" font-weight="bold" fill="#2a2a2a" style="stroke-width:0.06px">0.16</text>
<circle cx="489.37" cy="241.31" r="5.57" fill="rgb(189,189,225)"/>
<text x="489.37" y="243.31" font-size="5.3" text-anchor="middle" font-family="Liberation Serif, serif" font-weight="bold" fill="#2a2a2a" style="stroke-width:0.06px">0.37</text>
<circle cx="513.19" cy="241.31" r="3.99" fill="rgb(97,97,183)"/>
<text x="513.19" y="243.31" font-size="5.3" text-anchor="middle" font-family="Liberation Serif, serif" font-weight="bold" fill="#2a2a2a" style="stroke-width:0.06px">0.19</text>
<circle cx="465.53" cy="261.74" r="9.15" fill="rgb(255,0,0)"/>
<text x="465.53" y="263.74" font-size="5.3" text-anchor="middle" font-family="Liberation Serif, serif" font-weight="bold" fill="#2a2a2a" style="stroke-width:0.06px">1.0</text>
<circle cx="489.37" cy="261.74" r="8.18" fill="rgb(255,102,102)"/>
<text x="489.37" y="263.74" font-size="5.3" text-anchor="middle" font-family="Liberation Serif, serif" font-weight="bold" fill="#2a2a2a" style="stroke-width:0.06px">0.80</text>
<circle cx="513.19" cy="261.74" r="6.97" fill="rgb(255,214,214)"/>
<text x="513.19" y="263.74" font-size="5.3" text-anchor="middle" font-family="Liberation Serif, serif" font-weight="bold" fill="#2a2a2a" style="stroke-width:0.06px">0.58</text>
<circle cx="489.37" cy="282.17" r="9.15" fill="rgb(255,0,0)"/>
<text x="489.37" y="284.17" font-size="5.3" text-anchor="middle" font-family="Liberation Serif, serif" font-weight="bold" fill="#2a2a2a" style="stroke-width:0.06px">1.0</text>
<circle cx="513.19" cy="282.17" r="6.66" fill="rgb(255,240,240)"/>
<text x="513.19" y="284.17" font-size="5.3" text-anchor="middle" font-family="Liberation Serif, serif" font-weight="bold" fill="#2a2a2a" style="stroke-width:0.06px">0.53</text>
<circle cx="513.19" cy="302.60" r="9.15" fill="rgb(255,0,0)"/>
<text x="513.19" y="304.60" font-size="5.3" text-anchor="middle" font-family="Liberation Serif, serif" font-weight="bold" fill="#2a2a2a" style="stroke-width:0.06px">1.0</text>
<g font-family="Liberation Serif, serif" font-weight="bold">
<text x="363.50" y="182.07" font-size="6.15" text-anchor="end" textLength="74" lengthAdjust="spacing">α-glucosidase inhibition  rate</text>
<text x="380.63" y="202.50" font-size="6.15" text-anchor="end">Total carbohydrate</text>
<text x="404.46" y="222.93" font-size="6.15" text-anchor="end">Reducing sugar</text>
<text x="428.29" y="243.36" font-size="6.15" text-anchor="end">Polysaccharide</text>
<text x="452.12" y="263.79" font-size="6.15" text-anchor="end">Total flavonoid</text>
<text x="475.95" y="284.22" font-size="6.15" text-anchor="end">Total polyphenol</text>
<text x="501.08" y="304.65" font-size="6.15" text-anchor="end">Total saponin</text>
<g class="r" transform="rotate(-14.8 346.00 168.90)"><text x="346.00" y="168.90" font-size="6.08">α-glucosidase inhibition  rate</text></g>
<g class="r" transform="rotate(-14.8 382.00 165.10)"><text x="382.00" y="165.10" font-size="6.08">Total carbohydrate</text></g>
<g class="r" transform="rotate(-14.8 410.40 164.00)"><text x="410.40" y="164.00" font-size="6.08">Reducing sugar</text></g>
<g class="r" transform="rotate(-14.8 434.90 164.00)"><text x="434.90" y="164.00" font-size="6.08">Polysaccharide</text></g>
<g class="r" transform="rotate(-14.8 459.30 164.20)"><text x="459.30" y="164.20" font-size="6.08">Total flavonoid</text></g>
<g class="r" transform="rotate(-14.8 480.90 164.20)"><text x="480.90" y="164.20" font-size="6.08">Total polyphenol</text></g>
<g class="r" transform="rotate(-14.8 508.90 163.30)"><text x="508.90" y="163.30" font-size="6.08">Total saponin</text></g>
<text x="331.80" y="166.10" font-size="8.4">E</text>
</g>
<defs><linearGradient id="gE" x1="0" y1="0" x2="0" y2="1"><stop offset="0" stop-color="#ff0000"/><stop offset="0.5" stop-color="#ffffff"/><stop offset="1" stop-color="#00008b"/></linearGradient></defs>
<rect x="528.10" y="171.10" width="6.4" height="139.40" fill="url(#gE)"/>
<rect x="528.10" y="239.60" width="6.4" height="1.3" fill="#a8dcf0"/>
<line x1="534.70" y1="171.10" x2="534.70" y2="310.50" stroke="#000" stroke-width="0.5"/>
<line x1="534.70" y1="171.10" x2="536.50" y2="171.10" stroke="#000" stroke-width="0.5"/>
<text x="539.40" y="172.60" font-size="4.3" font-family="Liberation Serif, serif" font-weight="bold">1</text>
<line x1="534.70" y1="198.98" x2="536.50" y2="198.98" stroke="#000" stroke-width="0.5"/>
<text x="539.40" y="200.48" font-size="4.3" font-family="Liberation Serif, serif" font-weight="bold">0.8</text>
<line x1="534.70" y1="226.86" x2="536.50" y2="226.86" stroke="#000" stroke-width="0.5"/>
<text x="539.40" y="228.36" font-size="4.3" font-family="Liberation Serif, serif" font-weight="bold">0.6</text>
<line x1="534.70" y1="254.74" x2="536.50" y2="254.74" stroke="#000" stroke-width="0.5"/>
<text x="539.40" y="256.24" font-size="4.3" font-family="Liberation Serif, serif" font-weight="bold">0.4</text>
<line x1="534.70" y1="282.62" x2="536.50" y2="282.62" stroke="#000" stroke-width="0.5"/>
<text x="539.40" y="284.12" font-size="4.3" font-family="Liberation Serif, serif" font-weight="bold">0.2</text>
<line x1="534.70" y1="310.50" x2="536.50" y2="310.50" stroke="#000" stroke-width="0.5"/>
<text x="539.40" y="312.00" font-size="4.3" font-family="Liberation Serif, serif" font-weight="bold">0</text>
</svg></body></html>
